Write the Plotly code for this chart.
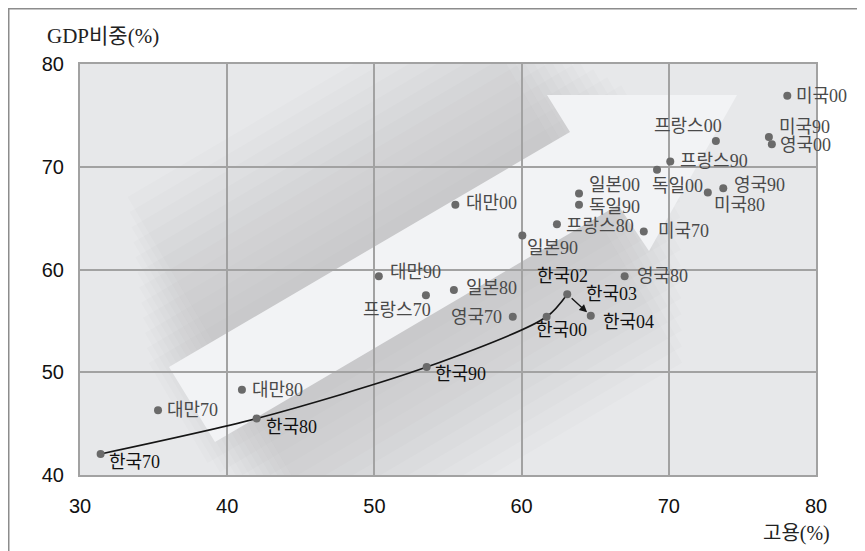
import plotly.graph_objects as go

# ---------------- data ----------------
names = ["한국70", "한국80", "한국90", "한국00", "한국02", "한국04",
         "대만70", "대만80", "대만90", "대만00",
         "일본80", "일본90", "일본00",
         "프랑스70", "프랑스80", "프랑스90", "프랑스00",
         "독일90", "독일00",
         "영국70", "영국80", "영국90", "영국00",
         "미국70", "미국80", "미국90", "미국00"]
employment = [31.4, 42.0, 53.55, 61.7, 63.1, 64.7,
              35.3, 41.0, 50.3, 55.5,
              55.4, 60.05, 63.9,
              53.5, 62.4, 70.1, 73.2,
              63.9, 69.2,
              59.4, 67.0, 73.7, 77.0,
              68.3, 72.65, 76.8, 78.05]
gdp_share = [42.05, 45.5, 50.5, 55.4, 57.6, 55.5,
             46.3, 48.3, 59.35, 66.3,
             58.0, 63.3, 67.4,
             57.5, 64.4, 70.5, 72.5,
             66.3, 69.7,
             55.4, 59.35, 67.9, 72.2,
             63.7, 67.5, 72.9, 76.9]
korea_path = ["한국70", "한국80", "한국90", "한국00", "한국02"]
korea_arrow = ("한국02", "한국04")
extra_label = ("한국03", "한국04")   # label text, anchored near this point
x_ticks = [30, 40, 50, 60, 70, 80]
y_ticks = [40, 50, 60, 70, 80]
x_title = "고용(%)"
y_title = "GDP비중(%)"

# ---------------- label placement (style) ----------------
# name: (xanchor, xshift px, yshift px)
label_pos = {
    "한국70": ("left", 6, -8), "한국80": ("left", 7, -9), "한국90": ("left", 6, -7),
    "한국00": ("center", 15, -13), "한국02": ("center", -5, 18), "한국04": ("left", 10, -6),
    "대만70": ("left", 7, 0), "대만80": ("left", 8, 0), "대만90": ("left", 9, 4),
    "대만00": ("left", 9, 2),
    "일본80": ("left", 10, 2), "일본90": ("left", 3, -12), "일본00": ("left", 8, 8),
    "프랑스70": ("right", 7, -15), "프랑스80": ("left", 7, -2), "프랑스90": ("left", 8, 1),
    "프랑스00": ("right", 8, 15),
    "독일90": ("left", 8, -2), "독일00": ("left", -7, -16),
    "영국70": ("right", -9, 0), "영국80": ("left", 10, 0), "영국90": ("left", 9, 3),
    "영국00": ("left", 6, -1),
    "미국70": ("left", 12, 0), "미국80": ("left", 4, -13), "미국90": ("left", 8, 10),
    "미국00": ("left", 7, 0),
}
extra_pos = ("center", 21, 22)

# ---------------- layout geometry ----------------
W, H = 865, 551
OFF = 8                      # page body margin
PL, PT = 80, 64              # plot left / top on screen
PW, PH = 736, 411
ML, MT = PL - OFF, PT - OFF
MR, MB = W - ML - PW, H - MT - PH
PB = PT + PH
X0, X1 = 30, 80
Y0, Y1 = 40, 80


def px2x(px):
    return X0 + (px - PL) / PW * (X1 - X0)


def py2y(py):
    return Y1 - (py - PT) / PH * (Y1 - Y0)


def path_from_px(pts):
    return "M " + " L ".join(f"{px2x(a):.4f},{py2y(b):.4f}" for a, b in pts) + " Z"


idx = {n: i for i, n in enumerate(names)}

fig = go.Figure()

# ---------------- background decoration: soft shadow + big arrow ----------------
shapes = []
c0 = (192.0, 405.0)
u = (0.862, -0.507)
nrm = (0.507, 0.862)
for k in range(1, 13):
    w = 44 + 14 * k
    t0, t1 = -22 + 6 * k, 540 - 8 * k
    pts = []
    for t, s in [(t0, -w), (t1, -w), (t1, w), (t0, w)]:
        pts.append((c0[0] + t * u[0] + s * nrm[0], c0[1] + t * u[1] + s * nrm[1]))
    shapes.append(dict(type="path", path=path_from_px(pts), xref="x", yref="y",
                       fillcolor="rgba(115,115,120,0.022)", line=dict(width=0),
                       layer="below"))

arrow_px = [(169, 367), (570, 132), (547, 95), (737, 95), (649, 251), (618, 205), (215, 442)]
shapes.append(dict(type="path", path=path_from_px(arrow_px), xref="x", yref="y",
                   fillcolor="#f2f3f5", line=dict(width=0), layer="below"))

# outer frame (top and left edges of the figure)
fx = (OFF - PL) / PW
fy = (PB - OFF) / PH
shapes.append(dict(type="line", xref="paper", yref="paper",
                   x0=fx, x1=(W + OFF - PL) / PW, y0=fy, y1=fy,
                   line=dict(color="#8c8c8c", width=3)))
shapes.append(dict(type="line", xref="paper", yref="paper",
                   x0=fx, x1=fx, y0=fy, y1=(PB - H - OFF) / PH,
                   line=dict(color="#8c8c8c", width=3)))

# ---------------- Korea path ----------------
fig.add_trace(go.Scatter(
    x=[employment[idx[n]] for n in korea_path],
    y=[gdp_share[idx[n]] for n in korea_path],
    mode="lines", line=dict(color="#151515", width=1.6, shape="spline", smoothing=0.8),
    hoverinfo="skip", showlegend=False))

# ---------------- points ----------------
fig.add_trace(go.Scatter(
    x=employment, y=gdp_share, mode="markers", text=names,
    marker=dict(size=8, color="#6a6a6a"), showlegend=False,
    hovertemplate="%{text}: %{x}, %{y}<extra></extra>"))

annotations = []
label_font = "Liberation Serif, Noto Sans CJK KR, serif"
for n, xv, yv in zip(names, employment, gdp_share):
    anc, dx, dy = label_pos[n]
    col = "#111111" if n.startswith("한국") else "#4a4a4a"
    annotations.append(dict(x=xv, y=yv, xref="x", yref="y", text=n, showarrow=False,
                            xanchor=anc, yanchor="middle", xshift=dx, yshift=dy,
                            font=dict(family=label_font, size=18, color=col)))

lab, at = extra_label
anc, dx, dy = extra_pos
annotations.append(dict(x=employment[idx[at]], y=gdp_share[idx[at]], xref="x", yref="y",
                        text=lab, showarrow=False, xanchor=anc, yanchor="middle",
                        xshift=dx, yshift=dy,
                        font=dict(family=label_font, size=18, color="#111111")))

a_from, a_to = korea_arrow
annotations.append(dict(x=employment[idx[a_to]], y=gdp_share[idx[a_to]],
                        ax=employment[idx[a_from]], ay=gdp_share[idx[a_from]],
                        xref="x", yref="y", axref="x", ayref="y", text="",
                        showarrow=True, arrowhead=2, arrowsize=1.1, arrowwidth=1.4,
                        arrowcolor="#151515", standoff=5, startstandoff=4))

# axis titles
annotations.append(dict(x=(45 - PL) / PW, y=(PB - 36) / PH, xref="paper", yref="paper",
                        text=y_title, showarrow=False, xanchor="left", yanchor="middle",
                        font=dict(family=label_font, size=21, color="#222222")))
annotations.append(dict(x=(832 - PL) / PW, y=(PB - 533) / PH, xref="paper", yref="paper",
                        text=x_title, showarrow=False, xanchor="right", yanchor="middle",
                        font=dict(family=label_font, size=20, color="#222222")))

axis_common = dict(showgrid=True, gridcolor="#a2a2a2", gridwidth=1.5,
                   showline=True, linecolor="#a2a2a2", linewidth=2, mirror=True,
                   zeroline=False, ticks="",
                   tickfont=dict(family="Liberation Sans, Arial, sans-serif", size=20,
                                 color="#111111"))

fig.update_layout(
    width=W, height=H,
    margin=dict(l=ML, r=MR, t=MT, b=MB),
    paper_bgcolor="white", plot_bgcolor="#e7e8ea",
    xaxis=dict(range=[X0, X1], tickvals=x_ticks, ticklabelstandoff=12, **axis_common),
    yaxis=dict(range=[Y0, Y1], tickvals=y_ticks, ticklabelstandoff=10, **axis_common),
    shapes=shapes, annotations=annotations, showlegend=False,
)

fig.write_html("out.html")
